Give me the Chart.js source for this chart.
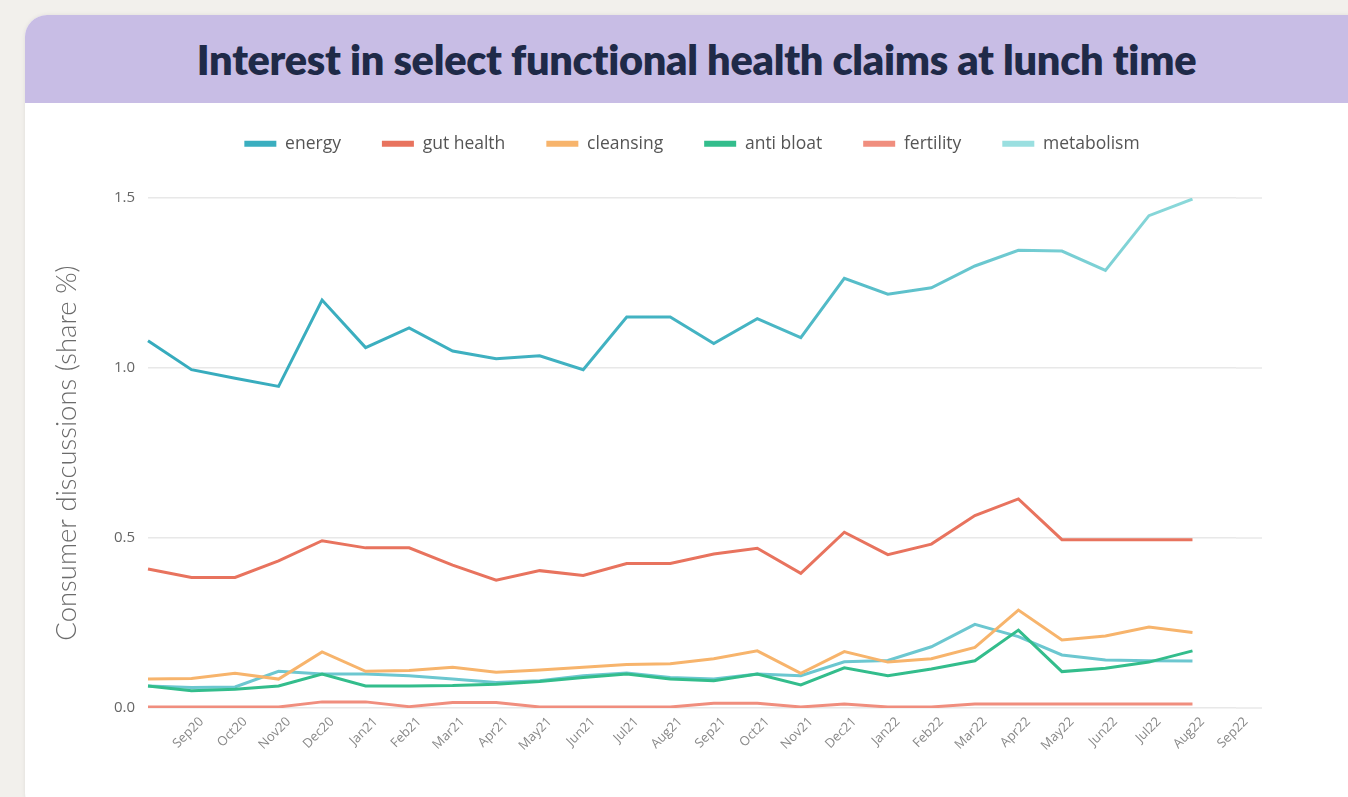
<!DOCTYPE html>
<html>
<head>
<meta charset="utf-8">
<script src="https://cdn.jsdelivr.net/npm/chart.js@4.4.0/dist/chart.umd.min.js"></script>
<style>
  body { margin: 0; background: #f2f0ec; width: 1348px; height: 797px; overflow: hidden; font-family: Lato, "Open Sans", sans-serif; }
  .card { position: absolute; left: 25px; top: 15px; width: 1360px; height: 800px; background: #fff; border-radius: 22px; box-shadow: 0 0 4px rgba(0,0,0,0.08); overflow: hidden; }
  .header { height: 88px; background: #c8bde5; display: flex; align-items: center; justify-content: center; }
  .header h1 { margin: 0 0 0 -17px; font-size: 41.5px; font-weight: 800; color: #1f2a48; letter-spacing: -0.3px; }
  .chart-box { position: absolute; left: 30px; top: 103px; width: 1232px; height: 694px; }
</style>
</head>
<body>
<div class="card">
  <div class="header"><h1>Interest in select functional health claims at lunch time</h1></div>
</div>
<div class="chart-box"><canvas id="claimsChart"></canvas></div>

<script>
// months (Aug20 has no printed tick label on the original)
const months = ['Aug20', 'Sep20', 'Oct20', 'Nov20', 'Dec20', 'Jan21', 'Feb21', 'Mar21', 'Apr21', 'May21',
  'Jun21', 'Jul21', 'Aug21', 'Sep21', 'Oct21', 'Nov21', 'Dec21', 'Jan22', 'Feb22', 'Mar22',
  'Apr22', 'May22', 'Jun22', 'Jul22', 'Aug22', 'Sep22'];

const energy = [1.08, 0.995, 0.97, 0.946, 1.20, 1.06, 1.118, 1.05, 1.027, 1.036, 0.995, 1.15, 1.15,
  1.072, 1.145, 1.089, 1.264, 1.217, 1.236, 1.30, 1.346, 1.344, 1.287, 1.448, 1.497, null];
const gutHealth = [0.409, 0.384, 0.384, 0.433, 0.492, 0.471, 0.471, 0.42, 0.376, 0.404, 0.39, 0.425, 0.425,
  0.453, 0.47, 0.396, 0.517, 0.451, 0.482, 0.566, 0.615, 0.495, 0.495, 0.495, 0.495, null];
const cleansing = [0.085, 0.087, 0.102, 0.085, 0.165, 0.108, 0.11, 0.12, 0.105, 0.112, 0.12, 0.128, 0.13,
  0.145, 0.168, 0.102, 0.166, 0.135, 0.145, 0.178, 0.288, 0.2, 0.212, 0.238, 0.222, null];
const antiBloat = [0.065, 0.051, 0.055, 0.065, 0.1, 0.065, 0.065, 0.066, 0.07, 0.078, 0.09, 0.1, 0.085,
  0.08, 0.1, 0.068, 0.118, 0.095, 0.115, 0.139, 0.229, 0.107, 0.117, 0.135, 0.168, null];
const fertility = [0.003, 0.003, 0.003, 0.003, 0.018, 0.018, 0.004, 0.016, 0.016, 0.003, 0.003, 0.003, 0.003,
  0.014, 0.014, 0.003, 0.012, 0.003, 0.003, 0.012, 0.012, 0.012, 0.012, 0.012, 0.012, null];
const metabolism = [0.065, 0.06, 0.062, 0.108, 0.1, 0.1, 0.095, 0.085, 0.075, 0.08, 0.095, 0.103, 0.09,
  0.085, 0.1, 0.095, 0.136, 0.14, 0.18, 0.246, 0.21, 0.156, 0.141, 0.139, 0.138, null];

const yTicks = [0, 0.5, 1.0, 1.5];

document.addEventListener('DOMContentLoaded', function() {
    const ctx = document.getElementById('claimsChart');

    // energy line fades lighter toward the right
    function energyStroke(c) {
        const area = c.chart.chartArea;
        if (!area) return '#3aaebf';
        const g = c.chart.ctx.createLinearGradient(area.left, 0, area.right, 0);
        g.addColorStop(0, '#36abbd');
        g.addColorStop(0.55, '#45b4c3');
        g.addColorStop(1, '#92dcdc');
        return g;
    }

    const series = [
        { label: 'energy', data: energy, color: '#3aaebf', stroke: energyStroke },
        { label: 'gut health', data: gutHealth, color: '#e8735e' },
        { label: 'cleansing', data: cleansing, color: '#f7b46c' },
        { label: 'anti bloat', data: antiBloat, color: '#33bd8c' },
        { label: 'fertility', data: fertility, color: '#f08e7e' },
        { label: 'metabolism', data: metabolism, color: '#9adfe0', stroke: '#6cc7d0' }
    ];

    const legendHeight = {
        id: 'legendHeight',
        beforeInit(chart) {
            const fit = chart.legend.fit;
            chart.legend.fit = function() {
                fit.bind(chart.legend)();
                this.height = 104;
            };
        }
    };

    // gridlines run a bit past the last month on the original
    const gridTail = {
        id: 'gridTail',
        beforeDatasetsDraw(chart) {
            const y = chart.scales.y;
            const right = chart.chartArea.right;
            const c = chart.ctx;
            c.save();
            c.strokeStyle = '#e8e8e8';
            c.lineWidth = 1.5;
            yTicks.forEach(v => {
                const py = y.getPixelForValue(v);
                c.beginPath();
                c.moveTo(right, py);
                c.lineTo(right + 26, py);
                c.stroke();
            });
            c.restore();
        }
    };

    new Chart(ctx, {
        type: 'line',
        data: {
            labels: months,
            datasets: series.map(s => ({
                label: s.label,
                data: s.data,
                borderColor: s.stroke || s.color,
                backgroundColor: s.color,
                borderWidth: 3,
                pointRadius: 0,
                tension: 0,
                spanGaps: false
            }))
        },
        options: {
            responsive: true,
            maintainAspectRatio: false,
            animation: false,
            layout: { padding: { top: -9, right: 26, bottom: 0, left: 0 } },
            plugins: {
                tooltip: { enabled: false },
                legend: {
                    position: 'top',
                    fullSize: false,
                    labels: {
                        boxWidth: 32,
                        boxHeight: 6,
                        padding: 41,
                        color: '#555',
                        font: { family: 'Open Sans', size: 17.5 },
                        generateLabels: function(chart) {
                            return chart.data.datasets.map((d, i) => ({
                                text: d.label,
                                fillStyle: d.backgroundColor,
                                strokeStyle: d.backgroundColor,
                                lineWidth: 0,
                                hidden: !chart.isDatasetVisible(i),
                                datasetIndex: i,
                                fontColor: '#555'
                            }));
                        }
                    }
                }
            },
            scales: {
                x: {
                    grid: { display: false },
                    border: { display: false },
                    ticks: {
                        autoSkip: false,
                        minRotation: 45,
                        maxRotation: 45,
                        padding: -2,
                        labelOffset: 10,
                        color: '#888',
                        font: { family: 'Open Sans', size: 13 },
                        callback: function(v, i) { return i === 0 ? '' : months[i]; }
                    },
                    afterFit: s => { s.height = 89; }
                },
                y: {
                    min: 0,
                    max: 1.5,
                    afterBuildTicks: s => { s.ticks = yTicks.map(v => ({ value: v })); },
                    grid: { color: '#e8e8e8', lineWidth: 1.5, drawTicks: false },
                    border: { display: false },
                    ticks: {
                        padding: 13,
                        color: '#666',
                        font: { family: 'Open Sans', size: 15 },
                        callback: v => Number(v).toFixed(1)
                    },
                    title: {
                        display: true,
                        text: 'Consumer discussions (share %)',
                        color: '#6b6b6b',
                        font: { family: 'Lato', size: 27.5, weight: 300 },
                        padding: { top: 21, bottom: 0 }
                    },
                    afterFit: s => { s.width = 118; }
                }
            }
        },
        plugins: [legendHeight, gridTail]
    });
});
</script>
</body>
</html>
